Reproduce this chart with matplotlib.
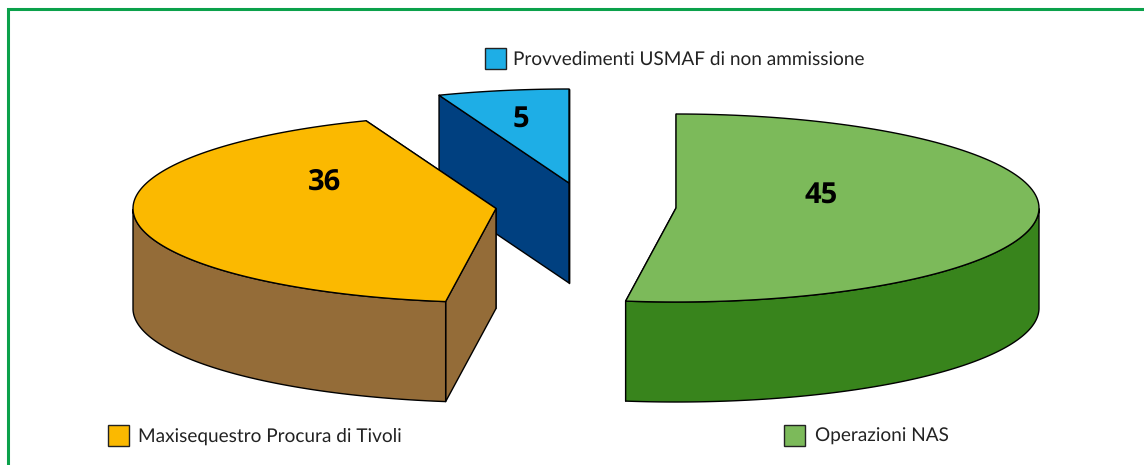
# Exploded 3D pie, drawn by hand in pixel coordinates

import matplotlib.pyplot as plt
from matplotlib.patches import Polygon, Rectangle
import numpy as np

plt.rcParams["font.family"] = "Lato"
plt.rcParams["text.hinting"] = "no_hinting"

labels = ["Operazioni NAS", "Maxisequestro Procura di Tivoli", "Provvedimenti USMAF di non ammissione"]
values = [44.8, 36.0, 5.0]
value_labels = ["45", "36", "5"]

top_colors = ["#7cba5a", "#fbb900", "#1eaee6"]
side_colors = ["#38841c", "#946c38", "#004080"]
centers = [(676, 208), (496, 208.5), (569, 183)]
value_pos = [(821, 195), (325, 182), (521, 119)]
legend_pos = [(784, 425), (108, 425), (485, 48)]
label_x = [815, 138, 513]

W, H = 1144, 465
RX, RY = 363, 94
DEPTH = 100


def rim(cx, cy, a0, a1, n=120):
    t = np.radians(np.linspace(a0, a1, n))
    return np.column_stack([cx + RX * np.cos(t), cy - RY * np.sin(t)])


fig = plt.figure(figsize=(W / 100, H / 100), dpi=100)
ax = fig.add_axes([0, 0, 1, 1])
ax.set_xlim(0, W)
ax.set_ylim(H, 0)
ax.axis("off")

# green frame, runs off the right and bottom edge
ax.plot([7.5, 7.5, W + 5], [H + 5, 9, 9], color="#0ba14b", lw=2.2, solid_joinstyle="miter")

total = sum(values)
edge = {"edgecolor": "black", "linewidth": 1.0, "joinstyle": "round"}

# slice angles, clockwise from the top
sweeps = [v / total * 360 for v in values]
starts = [90 - sum(sweeps[:i]) for i in range(len(values))]

# blue goes first: the orange slice overlaps it
for i in [2, 1, 0]:
    a0, a1 = starts[i], starts[i] - sweeps[i]
    cx, cy = centers[i]
    arc = rim(cx, cy, a0, a1)
    c = np.array([[cx, cy]])
    down = np.array([0, DEPTH])

    # cut faces first (far one before near one), then the outer wall, then the lid
    for p in (arc[-1], arc[0]):
        wall = np.vstack([c, [p], [p + down], c + down])
        ax.add_patch(Polygon(wall, facecolor=side_colors[i], **edge))

    # outer wall: only the part of the rim on the front side
    a = np.linspace(a0, a1, 240)
    front = a[np.sin(np.radians(a)) <= 0]
    if len(front):
        f = rim(cx, cy, front[0], front[-1], 240)
        ax.add_patch(Polygon(np.vstack([f, (f + down)[::-1]]), facecolor=side_colors[i], **edge))

    ax.add_patch(Polygon(np.vstack([c, arc]), facecolor=top_colors[i], **edge))
    ax.text(*value_pos[i], value_labels[i], fontsize=21, fontweight="bold", family="Open Sans",
            ha="center", va="center", color="black")

    lx, ly = legend_pos[i]
    ax.add_patch(Rectangle((lx, ly), 21, 21, facecolor=top_colors[i], edgecolor="#222222", linewidth=1.0))
    ax.text(label_x[i], ly + 11, labels[i], fontsize=13.7, ha="left", va="center", color="#222222")

fig.savefig("out.png", dpi=100)
plt.close()
